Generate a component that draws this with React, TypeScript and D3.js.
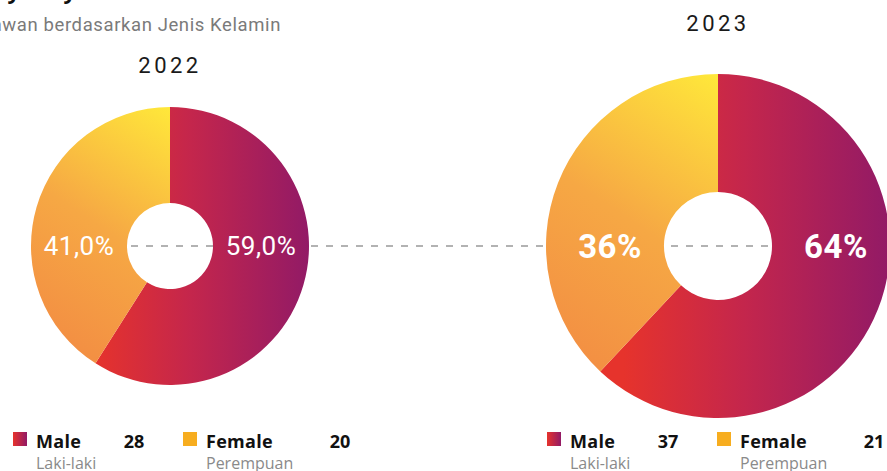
import React from 'react';
import * as d3 from 'd3';

const years = ['2022', '2023'];
const maleCounts = [28, 37];
const femaleCounts = [20, 21];
// slice shares as drawn in the picture
const maleShare = [59, 62];
const femaleShare = [41, 38];
const malePctLabels = ['59,0%', '64%'];
const femalePctLabels = ['41,0%', '36%'];
const categories = ['Male', 'Female'];
const categoriesLocal = ['Laki-laki', 'Perempuan'];

const W = 887;
const H = 471;

// panel layout: centre, radii, label sizes
const panels = [
  { cx: 170, cy: 246, r: 139, r0: 43, titleY: 73, labelSize: 26, labelWeight: 400, labelShift: 0, legendX: 13 },
  { cx: 718, cy: 246, r: 172, r0: 54, titleY: 31, labelSize: 33, labelWeight: 700, labelShift: 5, legendX: 547 }
];

function Donut({ i }: { i: number }) {
  const p = panels[i];
  const pie = d3.pie<number>().sort(null).value(d => d);
  const arcs = pie([maleShare[i], femaleShare[i]]);
  const arc = d3.arc<d3.PieArcDatum<number>>().innerRadius(p.r0).outerRadius(p.r);
  const fills = [`url(#male-${i})`, `url(#female-${i})`];
  const mid = (p.r + p.r0) / 2;

  return (
    <g>
      <text x={p.cx} y={p.titleY} textAnchor="middle" fontFamily="Roboto" fontSize={22}
        letterSpacing={3.5} fill="#1a1a1a">{years[i]}</text>
      <g transform={`translate(${p.cx},${p.cy})`}>
        <defs>
          <linearGradient id={`male-${i}`} gradientUnits="userSpaceOnUse"
            x1={-p.r * 0.55} y1={0} x2={p.r} y2={0}>
            <stop offset="0" stopColor="#e6332c" />
            <stop offset="0.45" stopColor="#c4264c" />
            <stop offset="1" stopColor="#921a66" />
          </linearGradient>
          <linearGradient id={`female-${i}`} gradientUnits="userSpaceOnUse"
            x1={-p.r} y1={p.r * 0.5} x2={0} y2={-p.r}>
            <stop offset="0" stopColor="#f39043" />
            <stop offset="0.45" stopColor="#f6a844" />
            <stop offset="1" stopColor="#ffe83a" />
          </linearGradient>
        </defs>
        {arcs.map((a, k) => (
          <path key={k} d={arc(a) || ''} fill={fills[k]} />
        ))}
        <text x={mid + p.labelShift} y={0} dy="0.36em" textAnchor="middle" fill="#fff"
          fontFamily="Roboto" fontSize={p.labelSize} fontWeight={p.labelWeight}
          letterSpacing={0.5}>{malePctLabels[i]}</text>
        <text x={-mid + p.labelShift} y={0} dy="0.36em" textAnchor="middle" fill="#fff"
          fontFamily="Roboto" fontSize={p.labelSize} fontWeight={p.labelWeight}
          letterSpacing={0.5}>{femalePctLabels[i]}</text>
      </g>
      <Legend i={i} />
    </g>
  );
}

function Legend({ i }: { i: number }) {
  const x0 = panels[i].legendX;
  const counts = [maleCounts[i], femaleCounts[i]];
  const swatch = [`url(#legm-${i})`, '#f7ad1f'];
  const numX = [121, 157];
  return (
    <g fontFamily="Open Sans">
      <defs>
        <linearGradient id={`legm-${i}`} x1="0" x2="1" y1="0" y2="0">
          <stop offset="0" stopColor="#e6332c" />
          <stop offset="1" stopColor="#921a66" />
        </linearGradient>
      </defs>
      {categories.map((c, k) => {
        const x = x0 + k * 170;
        return (
          <g key={c}>
            <rect x={x} y={432} width={14} height={14} fill={swatch[k]} />
            <text x={x + 23} y={448} fontSize={18} fontWeight={700} fill="#111"
              letterSpacing={0.3}>{c}</text>
            <text x={x + numX[k]} y={448} fontSize={18} fontWeight={700} fill="#111"
              textAnchor="middle">{counts[k]}</text>
            <text x={x + 23} y={469} fontSize={16} fill="#8a8a8a">{categoriesLocal[k]}</text>
          </g>
        );
      })}
    </g>
  );
}

export default function App() {
  const a = panels[0];
  const b = panels[1];
  return (
    <div style={{ position: 'absolute', left: 0, top: 0 }}>
      <svg width={W} height={H} style={{ display: 'block', background: '#fff' }}>
        <text x={136} y={-1} textAnchor="end" fontFamily="Open Sans" fontWeight={700} fontSize={22}
          fill="#111">Diversity Karyawan</text>
        <text x={281} y={31} textAnchor="end" fontFamily="Roboto" fontSize={18.5}
          fill="#7a7a7a" letterSpacing={0.6}>Komposisi Karyawan berdasarkan Jenis Kelamin</text>
        <line x1={a.cx - a.r0 + 4} x2={b.cx + b.r0 - 2} y1={a.cy} y2={a.cy}
          stroke="#999" strokeWidth={1.6} strokeDasharray="7 8" />
        <Donut i={0} />
        <Donut i={1} />
      </svg>
    </div>
  );
}
